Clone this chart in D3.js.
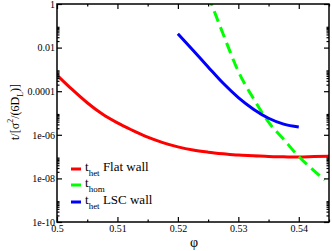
<!DOCTYPE html>
<html>
<head>
<meta charset="utf-8">
<script src="https://cdn.jsdelivr.net/npm/d3@7"></script>
<style>
    body { margin: 0; background: #fff; }
</style>
</head>
<body>
<svg id="chart"></svg>
<script>
// t_het, flat wall
var phiFlat = [0.5, 0.5025, 0.505, 0.5075, 0.51, 0.5125, 0.515, 0.5175, 0.52, 0.5225,
    0.525, 0.5275, 0.53, 0.5325, 0.535, 0.5375, 0.54, 0.5425, 0.545];
var tFlat = [5.5e-4, 1.2e-4, 2.95e-5, 8.9e-6, 3.5e-6, 1.6e-6, 7.8e-7, 4.4e-7, 2.8e-7, 2.0e-7,
    1.6e-7, 1.35e-7, 1.17e-7, 1.1e-7, 1.02e-7, 9.8e-8, 9.5e-8, 1.0e-7, 1.05e-7];

// t_hom
var phiHom = [0.525, 0.5275, 0.53, 0.5325, 0.535, 0.5375, 0.54, 0.5425, 0.5443];
var tHom = [2.5, 0.041, 8.1e-4, 4.6e-5, 3.8e-6, 6.2e-7, 1.0e-7, 2.3e-8, 8.5e-9];

// t_het, LSC wall
var phiLsc = [0.52, 0.5225, 0.525, 0.5275, 0.53, 0.5325, 0.535, 0.5375, 0.54];
var tLsc = [4.3e-2, 7.6e-3, 1.3e-3, 2.3e-4, 5.1e-5, 1.5e-5, 5.75e-6, 3.1e-6, 2.3e-6];

var xTicks = [0.5, 0.51, 0.52, 0.53, 0.54];
var xMinor = [0.505, 0.515, 0.525, 0.535, 0.545];
var yTicks = [1, 1e-2, 1e-4, 1e-6, 1e-8, 1e-10];
var yTickLabels = ["1", "0.01", "0.0001", "1e-06", "1e-08", "1e-10"];

var serif = "'Liberation Serif', 'Times New Roman', 'DejaVu Serif', serif";

var width = 332,
    height = 251,
    margin = {top: 4, right: 3, bottom: 29, left: 57};

var innerWidth = width - margin.left - margin.right;
var innerHeight = height - margin.top - margin.bottom;

var svg = d3.select("#chart")
    .attr("width", width)
    .attr("height", height);

var g = svg.append("g")
    .attr("transform", "translate(" + margin.left + "," + margin.top + ")");

var xScale = d3.scaleLinear().domain([0.5, 0.545]).range([0, innerWidth]);
var yScale = d3.scaleLog().domain([1e-10, 1]).range([innerHeight, 0]);

var yMinor = [];
[-10, -8, -6, -4, -2].forEach(function (p) {
    for (var k = 2; k <= 9; k++) yMinor.push(k * Math.pow(10, p));
});

g.append("clipPath").attr("id", "clip")
    .append("rect").attr("width", innerWidth).attr("height", innerHeight);

var series = [
    {phi: phiFlat, t: tFlat, color: "#ff0000", dash: null},
    {phi: phiHom, t: tHom, color: "#00ff00", dash: "11,6"},
    {phi: phiLsc, t: tLsc, color: "#0000ff", dash: null}
];

var line = d3.line()
    .x(function (d) { return xScale(d[0]); })
    .y(function (d) { return yScale(d[1]); })
    .curve(d3.curveMonotoneX);

g.append("g").attr("clip-path", "url(#clip)")
    .selectAll("path")
    .data(series)
    .enter().append("path")
    .attr("d", function (s) { return line(d3.zip(s.phi, s.t)); })
    .attr("fill", "none")
    .attr("stroke", function (s) { return s.color; })
    .attr("stroke-width", 3)
    .attr("stroke-dasharray", function (s) { return s.dash; });

function styleAxis(sel) {
    sel.attr("font-family", null).attr("font-size", null);
    sel.select(".domain").remove();
    sel.selectAll("line").attr("stroke", "#000").attr("stroke-width", 1.2);
    sel.selectAll("text")
        .style("font-family", serif)
        .style("font-size", "10px")
        .attr("fill", "#000");
}

// bottom + top
g.append("g").attr("transform", "translate(0," + innerHeight + ")")
    .call(d3.axisBottom(xScale).tickValues(xTicks).tickSize(-5).tickPadding(3)
        .tickFormat(d3.format(".2~f")))
    .call(styleAxis);
g.append("g").attr("transform", "translate(0," + innerHeight + ")")
    .call(d3.axisBottom(xScale).tickValues(xMinor).tickSize(-2.5).tickFormat(""))
    .call(styleAxis);
g.append("g")
    .call(d3.axisTop(xScale).tickValues(xTicks).tickSize(-5).tickFormat(""))
    .call(styleAxis);
g.append("g")
    .call(d3.axisTop(xScale).tickValues(xMinor).tickSize(-2.5).tickFormat(""))
    .call(styleAxis);

// left + right
g.append("g")
    .call(d3.axisLeft(yScale).tickValues(yTicks).tickSize(-5).tickPadding(2)
        .tickFormat(function (d, i) { return yTickLabels[i]; }))
    .call(styleAxis);
g.append("g")
    .call(d3.axisLeft(yScale).tickValues(yMinor).tickSize(-2.5).tickFormat(""))
    .call(styleAxis);
g.append("g").attr("transform", "translate(" + innerWidth + ",0)")
    .call(d3.axisRight(yScale).tickValues(yTicks).tickSize(-5).tickFormat(""))
    .call(styleAxis);
g.append("g").attr("transform", "translate(" + innerWidth + ",0)")
    .call(d3.axisRight(yScale).tickValues(yMinor).tickSize(-2.5).tickFormat(""))
    .call(styleAxis);

g.append("rect")
    .attr("width", innerWidth)
    .attr("height", innerHeight)
    .attr("fill", "none")
    .attr("stroke", "#000")
    .attr("stroke-width", 1.5);

// axis titles
svg.append("text")
    .attr("x", 194)
    .attr("y", 247)
    .attr("text-anchor", "middle")
    .style("font-family", serif)
    .style("font-size", "14px")
    .text("\u03c6");

var yl = svg.append("text")
    .attr("transform", "translate(19,140) rotate(-90)")
    .attr("text-anchor", "start")
    .style("font-family", serif)
    .style("font-size", "12px");
yl.append("tspan").text("t/[\u03c3");
yl.append("tspan").style("font-size", "8px").attr("dy", -6).text("2");
yl.append("tspan").attr("dy", 6).text("/(6D");
yl.append("tspan").style("font-size", "8px").attr("dy", 4).text("L");
yl.append("tspan").attr("dy", -4).text(")]");

// legend
var legendRows = [
    {color: "#ff0000", sub: "het", rest: " Flat wall", y: 169},
    {color: "#00ff00", sub: "hom", rest: "", y: 185},
    {color: "#0000ff", sub: "het", rest: " LSC wall", y: 202}
];

var leg = svg.append("g").selectAll("g")
    .data(legendRows)
    .enter().append("g");

leg.append("line")
    .attr("x1", 71).attr("x2", 81)
    .attr("y1", function (d) { return d.y; })
    .attr("y2", function (d) { return d.y; })
    .attr("stroke", function (d) { return d.color; })
    .attr("stroke-width", 3);

var lt = leg.append("text")
    .attr("x", 85)
    .attr("y", function (d) { return d.y + 2; })
    .style("font-family", serif)
    .style("font-size", "13px");
lt.append("tspan").text("t");
lt.append("tspan").style("font-size", "9px").attr("dy", 5).text(function (d) { return d.sub; });
lt.append("tspan").attr("dy", -5).text(function (d) { return d.rest; });
</script>
</body>
</html>
